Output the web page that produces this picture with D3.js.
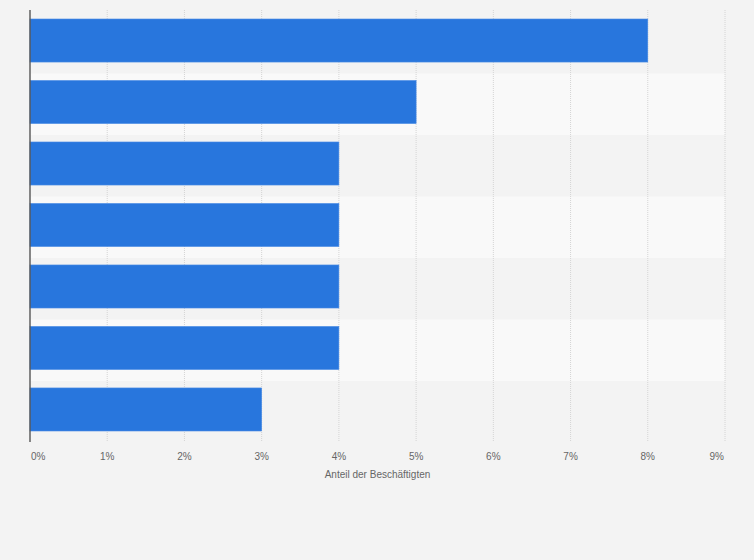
<!DOCTYPE html>
<html><head><meta charset="utf-8">
<script src="https://cdn.jsdelivr.net/npm/d3@7/dist/d3.min.js"></script>
<style>
html,body{margin:0;padding:0;background:#f3f3f3;}
svg{display:block;font-family:"Liberation Sans",Arial,sans-serif;}
</style></head>
<body>
<svg id="chart" width="754" height="560"></svg>
<script>
const categories = ["A","B","C","D","E","F","G"];
const values = [8, 5, 4, 4, 4, 4, 3];
const tickValues = [0,1,2,3,4,5,6,7,8,9];
const tickLabels = ["0%","1%","2%","3%","4%","5%","6%","7%","8%","9%"];
const axisTitle = "Anteil der Beschäftigten";

const svg = d3.select("#chart");
const W = 754, H = 560;
svg.append("rect").attr("width", W).attr("height", H).attr("fill", "#f3f3f3");

const x = d3.scaleLinear().domain([0, 9]).range([30, 725]);
const y = d3.scaleBand().domain(categories).range([19, 431]).paddingInner(0.3).paddingOuter(0);
const rowTopOffset = 7;

// row backgrounds
svg.append("g").selectAll("rect").data(categories).join("rect")
  .attr("x", x(0)).attr("width", x(9) - x(0))
  .attr("y", d => y(d) - rowTopOffset)
  .attr("height", y.step())
  .attr("fill", (d, i) => i % 2 ? "#f9f9f9" : "#f3f3f3");

// gridlines
svg.append("g").selectAll("line").data(tickValues.slice(1)).join("line")
  .attr("x1", d => x(d)).attr("x2", d => x(d))
  .attr("y1", 10).attr("y2", 442)
  .attr("stroke", "#d4d4d4").attr("stroke-width", 1)
  .attr("stroke-dasharray", "1,1");

// bars
svg.append("g").selectAll("rect").data(values).join("rect")
  .attr("x", x(0))
  .attr("y", (d, i) => y(categories[i]))
  .attr("width", d => x(d) - x(0))
  .attr("height", y.bandwidth())
  .attr("fill", "#2876dd")
  .attr("stroke", "#4a8be4").attr("stroke-width", 0.6);

// left axis line
svg.append("line").attr("x1", 30).attr("x2", 30).attr("y1", 10).attr("y2", 442)
  .attr("stroke", "#555").attr("stroke-width", 1.4);

// tick labels
const n = tickValues.length;
svg.append("g").selectAll("text").data(tickValues).join("text")
  .attr("x", (d, i) => i === 0 ? x(d) + 1 : (i === n - 1 ? x(d) - 1 : x(d)))
  .attr("y", 460)
  .attr("text-anchor", (d, i) => i === 0 ? "start" : (i === n - 1 ? "end" : "middle"))
  .attr("font-size", "10px").attr("fill", "#666")
  .text((d, i) => tickLabels[i]);

// axis title
svg.append("text").attr("x", (x(0) + x(9)) / 2).attr("y", 478)
  .attr("text-anchor", "middle").attr("font-size", "10px").attr("fill", "#666")
  .text(axisTitle);
</script>
</body></html>
